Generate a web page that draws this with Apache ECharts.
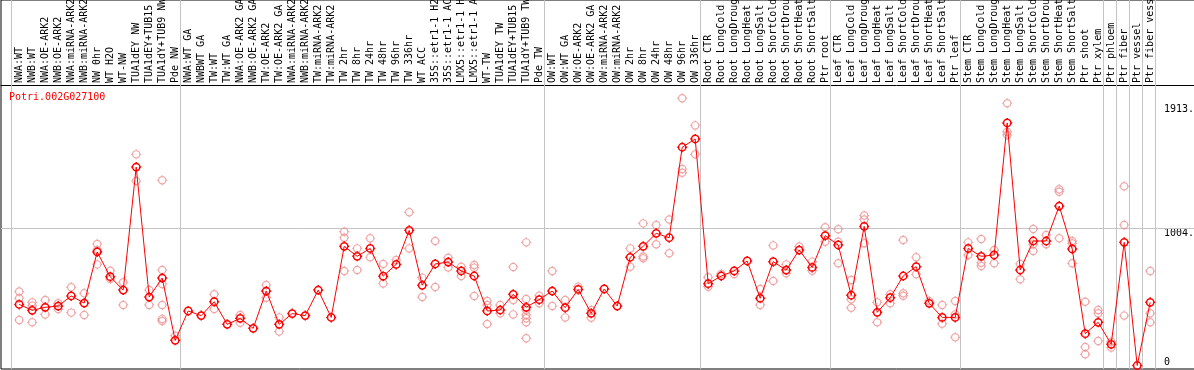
<!DOCTYPE html>
<html>
<head>
<meta charset="utf-8">
<script src="https://cdn.jsdelivr.net/npm/echarts@6/dist/echarts.min.js"></script>
<style>
html,body{margin:0;padding:0;background:#fff;}
#chart{width:1194px;height:370px;}
</style>
</head>
<body>
<div id="chart"></div>
<script>
const categories = [
  "NWA:WT","NWB:WT","NWA:OE-ARK2","NWB:OE-ARK2","NWA:miRNA-ARK2","NWB:miRNA-ARK2","NW 0hr","WT H2O","WT-NW","TUA1dEY NW","TUA1dEY+TUB15","TUA1dY+TUB9 NW","Pde NW",
  "NWA:WT GA","NWBWT GA","TW:WT","TW:WT GA","NWA:OE-ARK2 GA","NWB:OE-ARK2 GA","TW:OE-ARK2","TW:OE-ARK2 GA","NWA:miRNA-ARK2","NWB:miRNA-ARK2","TW:miRNA-ARK2","TW:miRNA-ARK2",
  "TW 2hr","TW 8hr","TW 24hr","TW 48hr","TW 96hr","TW 336hr","WT ACC","35S::etr1-1 H2O","35S::etr1-1 ACC","LMX5::etr1-1 H2O","LMX5::etr1-1 ACC","WT-TW","TUA1dEY TW","TUA1dEY+TUB15","TUA1dY+TUB9 TW","Pde TW",
  "OW:WT","OW:WT GA","OW:OE-ARK2","OW:OE-ARK2 GA","OW:miRNA-ARK2","OW:miRNA-ARK2","OW 2hr","OW 8hr","OW 24hr","OW 48hr","OW 96hr","OW 336hr",
  "Root CTR","Root LongCold","Root LongDrought","Root LongHeat","Root LongSalt","Root ShortCold","Root ShortDrought","Root ShortHeat","Root ShortSalt","Ptr root",
  "Leaf CTR","Leaf LongCold","Leaf LongDrought","Leaf LongHeat","Leaf LongSalt","Leaf ShortCold","Leaf ShortDrought","Leaf ShortHeat","Leaf ShortSalt","Ptr leaf",
  "Stem CTR","Stem LongCold","Stem LongDrought","Stem LongHeat","Stem LongSalt","Stem ShortCold","Stem ShortDrought","Stem ShortHeat","Stem ShortSalt","Ptr shoot",
  "Ptr xylem","Ptr phloem","Ptr fiber","Ptr vessel","Ptr fiber vessel"
];

const means = [
  447,404,426,435,509,457,831,650,552,1452,501,640,184,
  399,365,467,301,345,272,545,301,380,365,552,352,
  872,799,857,654,740,989,587,743,757,692,655,399,406,521,426,482,
  545,423,557,382,560,435,792,872,967,935,1597,1658,
  599,655,692,765,492,760,698,845,718,950,
  882,514,1018,389,496,655,723,455,352,352,
  857,799,809,1775,699,911,911,1167,853,233,
  316,155,901,0,462
];

const replicates = [
  [541,492,333],[462,438,316],[479,374],[455,413],[572,387],[528,370],[889,845,740],[694,633],[609,443],[1545,1350],[552,443],[1355,699,597,443,341,326],[218],
  [],[],[521,413],[],[370,313],[],[589,496],[352,248],[],[],[],[],
  [979,935,692],[857,699],[931,792],[743,600],[772],[1121,857],[643,501],[911,574],[789,718],[723,655],[735,716,509],[472,443,304],[443,382],[721,479,374],[901,487,406,370,345,316,199],[511,455],
  [692,435],[479,352],[577],[406,350],[],[],[857,723],[1040,797,784],[1028,887],[1069,821],[1955,1438,1411],[1757,1545],
  [645,577],[670],[670],[],[560,443],[879,618],[740,675],[870],[760,694],[1011,906],
  [997,906,748],[626,484,423],[1097,1069,894],[462,316],[521,455],[918,528,511],[792,667],[472],[443,306],[472,374,206],
  [901,809],[926,752,728],[845,748],[1919,1711,1687],[743,631],[999,887,838],[955,887],[1289,1272,931],[911,894,748],[467,135,82],
  [406,382,179],[174,131],[1311,1028,365],[],[692,382,316]
];

const groupStarts = [0,13,41,53,63,73,84,85,86,87,88];
const yTickLabels = [1913,1004];
const yZeroLabel = [0];
const hLineValue = 1004;
const title = "Potri.002G027100";

const FONT = "DejaVu Sans Mono";
const sym = 'path://M-4,0A4,4 0 1,1 4,0A4,4 0 1,1 -4,0Z M0,-5.5L0,-4 M0,4L0,5.5 M-5.5,0L-4,0 M4,0L5.5,0';

const meanData = means.map((v,i)=>[i,v]);
const repData = [];
replicates.forEach((arr,i)=>arr.forEach(v=>repData.push([i,v])));
const xIdx = categories.map((c,i)=>i);

const chart = echarts.init(document.getElementById('chart'), null, {renderer:'canvas'});
const yMin = -25.6, yMax = 2674.6;
chart.setOption({
  animation:false,
  backgroundColor:'#fff',
  title:{
    text:title, left:9, top:92, padding:0,
    textStyle:{color:'#ff0000', fontSize:10, fontWeight:'normal', fontFamily:FONT}
  },
  grid:{
    left:1, right:-3, top:0, bottom:1,
    show:true, borderColor:'#000', borderWidth:1, backgroundColor:'transparent',
    outerBoundsMode:'none', containLabel:false
  },
  xAxis:{
    type:'value', position:'top', offset:-85,
    min:-1.4, max:90.6,
    axisLine:{show:true, onZero:false, lineStyle:{color:'#000', width:1}},
    axisTick:{show:false},
    splitLine:{show:false},
    axisLabel:{
      show:true, rotate:-90, margin:2, customValues:xIdx,
      formatter:v=>categories[Math.round(v)]||'',
      color:'#000', fontSize:10, fontFamily:FONT, hideOverlap:false
    }
  },
  yAxis:[
    {
      type:'value', position:'right', offset:-34, min:yMin, max:yMax,
      axisLine:{show:false, onZero:false}, axisTick:{show:false}, splitLine:{show:false},
      axisLabel:{show:true, margin:1, customValues:yTickLabels, verticalAlign:'top',
        formatter:v=>v+'.', color:'#000', fontSize:10, fontFamily:FONT}
    },
    {
      type:'value', position:'right', offset:-34, min:yMin, max:yMax,
      axisLine:{show:false, onZero:false}, axisTick:{show:false}, splitLine:{show:false},
      axisLabel:{show:true, margin:1, customValues:yZeroLabel, verticalAlign:'bottom', padding:[0,0,-2,0],
        formatter:v=>String(v), color:'#000', fontSize:10, fontFamily:FONT}
    }
  ],
  series:[
    {
      type:'scatter', data:repData, symbol:sym, symbolSize:10, z:2,
      itemStyle:{color:'transparent', borderColor:'#ec9090', borderWidth:1.2},
      silent:true,
      markLine:{
        silent:true, symbol:['none','none'], label:{show:false},
        lineStyle:{color:'#c4c4c4', type:'solid', width:1},
        data:[
          ...groupStarts.map(i=>({xAxis:i-8/13})),
          {yAxis:hLineValue}
        ],
        z:1
      }
    },
    {
      type:'line', data:meanData, symbol:sym, symbolSize:10, z:3,
      lineStyle:{color:'#ff0000', width:1},
      itemStyle:{color:'transparent', borderColor:'#ff0000', borderWidth:1.5},
      silent:true
    }
  ]
});
</script>
</body>
</html>
